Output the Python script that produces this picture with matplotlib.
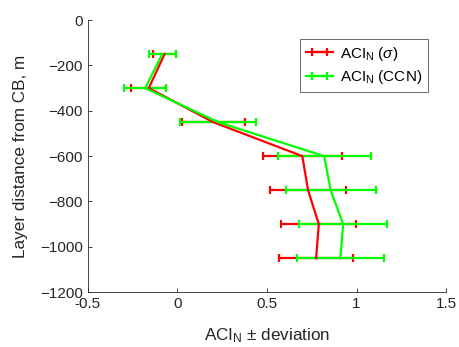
import numpy as np
import matplotlib
matplotlib.use("Agg")
import matplotlib.pyplot as plt

plt.rcParams["font.family"] = ["Liberation Sans", "DejaVu Sans"]
plt.rcParams["mathtext.fontset"] = "custom"
plt.rcParams["mathtext.rm"] = "Liberation Sans"
plt.rcParams["mathtext.it"] = "Liberation Sans:italic"

depth = [-150, -300, -450, -600, -750, -900, -1050]

aci_sigma = [-0.072, -0.16, 0.20, 0.697, 0.729, 0.789, 0.774]
err_sigma = [0.065, 0.097, 0.175, 0.22, 0.213, 0.21, 0.208]

aci_ccn = [-0.085, -0.18, 0.227, 0.819, 0.855, 0.925, 0.909]
err_ccn = [0.075, 0.117, 0.214, 0.259, 0.251, 0.247, 0.244]

fig = plt.figure(figsize=(4.6, 3.47), dpi=100)
ax = fig.add_axes([0.191, 0.158, 0.779, 0.784])

ax.errorbar(aci_sigma, depth, xerr=err_sigma, color="#ff0000", lw=1.6,
            elinewidth=1.6, capsize=3, capthick=1.6,
            label=r"ACI$_\mathrm{N}$ ($\sigma$)")
ax.errorbar(aci_ccn, depth, xerr=err_ccn, color="#00ff00", lw=1.6,
            elinewidth=1.6, capsize=3, capthick=1.6,
            label=r"ACI$_\mathrm{N}$ (CCN)")

ax.set_xlim(-0.5, 1.5)
ax.set_ylim(-1200, 0)
ax.set_xticks([-0.5, 0, 0.5, 1, 1.5])
ax.set_xticklabels(["-0.5", "0", "0.5", "1", "1.5"])
ax.set_yticks(np.arange(-1200, 1, 200))

for s in ["top", "right"]:
    ax.spines[s].set_visible(False)
for s in ["left", "bottom"]:
    ax.spines[s].set_color("#262626")
    ax.spines[s].set_linewidth(0.6)
ax.tick_params(direction="in", length=3, width=0.6, color="#262626",
               labelsize=11, labelcolor="#262626")

ax.set_xlabel(r"ACI$_\mathrm{N}$ $\pm$ deviation", fontsize=12.3,
              color="#262626", labelpad=11)
ax.set_ylabel("Layer distance from CB, m", fontsize=12.3, color="#262626",
              labelpad=8.5)

leg = ax.legend(loc="upper right", bbox_to_anchor=(0.97, 0.96),
                fontsize=11, frameon=True, fancybox=False,
                edgecolor="#262626", handlelength=1.8, borderpad=0.4,
                labelspacing=0.35, handletextpad=0.4)
leg.get_frame().set_linewidth(0.6)

fig.savefig("out.png", dpi=100)
